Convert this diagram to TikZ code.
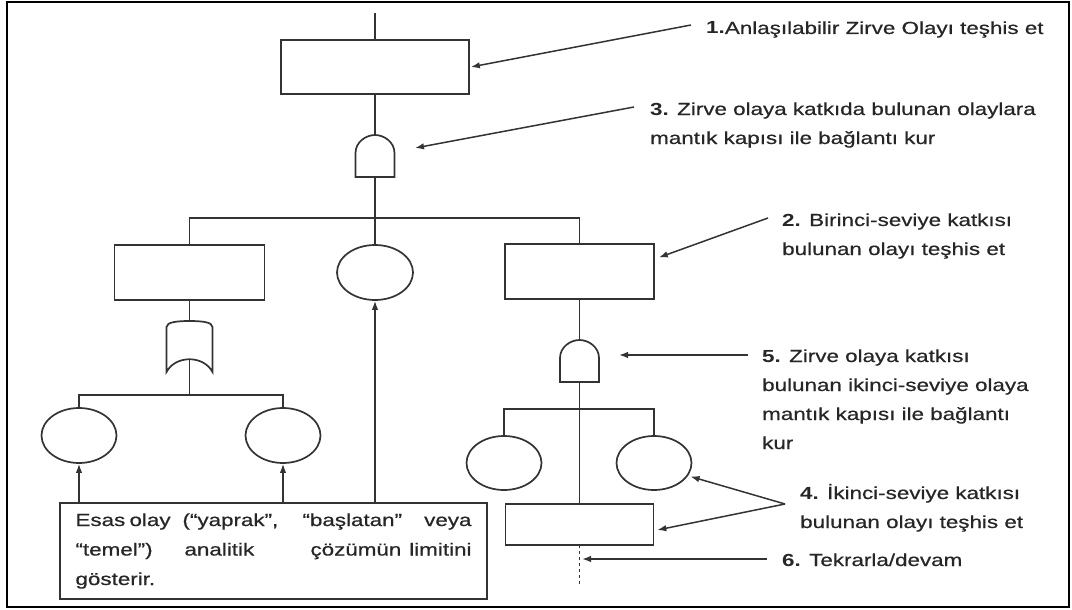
\documentclass[tikz,border=0pt]{standalone}
\usepackage{graphicx}
\usepackage{fontspec}
\setmainfont{Liberation Sans}[UprightFeatures={FakeBold=0.5}]
\usetikzlibrary{arrows.meta,shapes.geometric}
\definecolor{ln}{HTML}{333333}
\tikzset{
  shp/.style={draw=ln, line width=1.7pt, fill=white},
  evbox/.style={shp, rectangle, inner sep=0pt, minimum width=150pt, minimum height=55pt},
  circ/.style={shp, ellipse, inner sep=0pt, minimum width=75pt, minimum height=55pt},
  wire/.style={draw=ln, line width=1.7pt},
  arr/.style={draw=ln, line width=1.5pt, -{Latex[length=9pt,width=6.5pt]}},
  lab/.style={font=\fontsize{17.5pt}{29pt}\selectfont, anchor=base west, inner sep=0pt, text=black!85},
  andg/.pic={
    \path[shp] (-19.5,42) -- (-19.5,18) .. controls (-19.5,7) and (-9,0) .. (0,0)
      .. controls (9,0) and (19.5,7) .. (19.5,18) -- (19.5,42) -- cycle;
    \coordinate (-top) at (0,0);
    \coordinate (-bot) at (0,42);
  },
  org/.pic={
    \path[shp] (-23,51) -- (-23,6) .. controls (-23,1) and (-12,0) .. (0,0)
      .. controls (12,0) and (23,1) .. (23,6) -- (23,51)
      .. controls (14,34) and (-14,34) .. (-23,51) -- cycle;
    \coordinate (-top) at (0,0);
    \coordinate (-bot) at (0,38);
  }
}
\newcommand\sx[1]{\scalebox{1.28}[1]{#1}}
\newcommand\wordat[2]{\rlap{\hskip#1pt\relax\sx{#2}}}
\begin{document}
\begin{tikzpicture}[x=1pt,y=-1pt]
\useasboundingbox (0,0) rectangle (1072,610);
\draw[line width=2.6pt, black] (7,2) rectangle (1069,607);

% junction / free-end coordinates
\coordinate (top) at (375,13);
\coordinate (j1) at (375,218);
\coordinate (j2) at (579.5,409);
\coordinate (j3) at (189.5,395);
\coordinate (dend) at (579.5,587);

% wires (drawn first, shapes on top)
\draw[wire] (top) -- (375,40);
\draw[wire] (375,94) -- (375,135);
\draw[wire] (375,177) -- (375,245);
\draw[wire] (189.5,245) |- (j1) -| (579.5,245);
\draw[wire] (579.5,299) -- (579.5,504);
\draw[wire] (504,436) |- (j2) -| (654,436);
\draw[wire] (189.5,300) -- (189.5,395);
\draw[wire] (79,408) |- (j3) -| (283,408);
\draw[draw=ln, line width=1.2pt, dash pattern=on 3pt off 3pt] (579.5,545) -- (dend);

% events
\node[evbox, minimum width=188pt, minimum height=54pt] (topbox) at (375,67) {};
\pic (g1) at (375,135) {andg};
\node[evbox] (leftbox) at (189.5,272.5) {};
\node[circ, minimum width=76pt] (midc) at (375,272.5) {};
\node[evbox, minimum width=149pt] (rightbox) at (579.5,271.5) {};
\pic (g3) at (189.5,321) {org};
\node[circ] (lc1) at (79,435.5) {};
\node[circ] (lc2) at (283,435.5) {};
\pic (g2) at (579.5,340) {andg};
\node[circ, minimum height=54pt] (rc1) at (504,463) {};
\node[circ, minimum height=54pt] (rc2) at (654,463) {};
\node[evbox, minimum width=148pt, minimum height=41pt] (brbox) at (579.5,524.5) {};

% basic event note
\node[shp, rectangle, minimum width=427pt, minimum height=96pt,
      inner sep=0pt, font=\fontsize{17.5pt}{29.5pt}\selectfont, text=black!85]
  (tb) at (273.5,551)
  {\vbox{\hsize=396pt\baselineskip=29.5pt
   \hbox to 396pt{\wordat{0}{Esas}\wordat{54}{olay}\wordat{107}{(“yaprak”,}\wordat{227}{“başlatan”}\hfil\sx{veya}}
   \hbox to 396pt{\wordat{0}{“temel”)}\wordat{109}{analitik}\wordat{235}{çözümün}\hfil\sx{limitini}}
   \hbox to 396pt{\sx{gösterir.}\hfil}}};

\draw[arr] (tb.north -| lc1) -- (lc1.south);
\draw[arr] (tb.north -| lc2) -- (lc2.south);
\draw[arr] (tb.north -| midc) -- (midc.south);

% annotations
\node[lab] (t1) at (706,34) {\sx{\textbf{1.}Anlaşılabilir Zirve Olayı teşhis et}};
\node[lab] (t3) at (650,115) {\sx{\begin{tabular}[t]{@{}l@{}}\textbf{3.} Zirve olaya katkıda bulunan olaylara\\ mantık kapısı ile bağlantı kur\end{tabular}}};
\node[lab] (t2) at (782,226) {\sx{\begin{tabular}[t]{@{}l@{}}\textbf{2.} Birinci-seviye katkısı\\ bulunan olayı teşhis et\end{tabular}}};
\node[lab] (t5) at (762,362) {\sx{\begin{tabular}[t]{@{}l@{}}\textbf{5.} Zirve olaya katkısı\\ bulunan ikinci-seviye olaya\\ mantık kapısı ile bağlantı\\ kur\end{tabular}}};
\node[lab] (t4) at (800,499) {\sx{\begin{tabular}[t]{@{}l@{}}\textbf{4.} İkinci-seviye katkısı\\ bulunan olayı teşhis et\end{tabular}}};
\node[lab] (t6) at (782,566) {\sx{\textbf{6.} Tekrarla/devam}};

\coordinate (a1) at (691,25);
\coordinate (a3) at (634,107);
\coordinate (g1r) at (415,148);
\coordinate (a2) at (768,218);
\coordinate (a5) at (748,355);
\coordinate (g2r) at (619,355);
\coordinate (a4) at (785,504);
\coordinate (a6) at (767,559);
\draw[arr] (a1) -- ([xshift=1pt]topbox.east);
\draw[arr] (a3) -- (g1r);
\draw[arr] (a2) -- ([xshift=4pt,yshift=14pt]rightbox.east);
\draw[arr] (a5) -- (g2r);
\draw[arr] (a4) -- ([xshift=3pt]rc2.-22);
\draw[arr] (a4) -- ([xshift=3pt,yshift=-5.5pt]brbox.east);
\draw[arr] (a6) -- ([xshift=2.5pt]dend |- a6);
\end{tikzpicture}
\end{document}
